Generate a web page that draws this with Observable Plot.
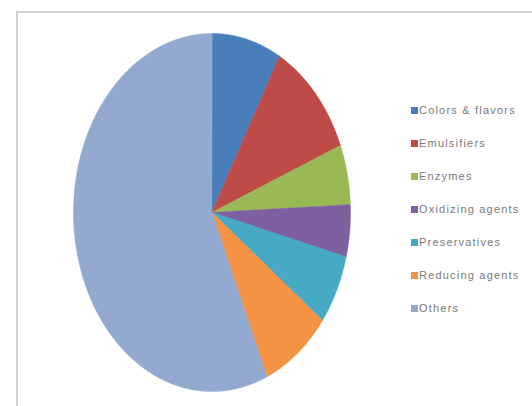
<!DOCTYPE html>
<html>
<head>
<meta charset="utf-8">
<script src="https://cdn.jsdelivr.net/npm/d3@7"></script>
<script src="https://cdn.jsdelivr.net/npm/@observablehq/plot@0.6"></script>
<style>
  html, body { margin: 0; padding: 0; background: #fff; }
  #wrap { position: relative; width: 532px; height: 406px; overflow: hidden; background: #fff; }
  #frame { position: absolute; left: 16px; top: 11px; width: 540px; height: 420px;
           border-left: 2px solid #cfcfcf; border-top: 2px solid #cfcfcf; box-sizing: border-box; }
  #chart { position: absolute; left: 0; top: 0; }
  #legend { position: absolute; left: 411px; top: 93.5px; font-family: "Liberation Sans", Arial, sans-serif;
            font-size: 11px; color: #7a7a7a; letter-spacing: 1.2px; }
  #legend .item { display: flex; align-items: center; height: 33px; white-space: nowrap; }
  #legend .sw { width: 7px; height: 7px; margin-right: 1px; flex: none; }
</style>
</head>
<body>
<div id="wrap"><div id="frame"></div><div id="chart"></div><div id="legend"></div></div>
<script>
const categories = ["Colors & flavors", "Emulsifiers", "Enzymes", "Oxidizing agents", "Preservatives", "Reducing agents", "Others"];
const shares = [8.1, 10.8, 5.4, 4.7, 6.3, 8.2, 56.5];
const colors = ["#4a7ebb", "#be4b48", "#98b954", "#7d60a0", "#46aac5", "#f59345", "#93a9cf"];

const pie = d3.pie().sort(null).value(d => d.value)(categories.map((c, i) => ({category: c, value: shares[i]})));

// Polygon outline of each slice in unit coordinates (angle 0 = top, clockwise)
const pts = [];
for (const a of pie) {
  const cat = a.data.category;
  pts.push({category: cat, x: 0, y: 0});
  const n = Math.max(4, Math.ceil((a.endAngle - a.startAngle) / 0.01));
  for (let k = 0; k <= n; k++) {
    const t = a.startAngle + (a.endAngle - a.startAngle) * k / n;
    pts.push({category: cat, x: Math.sin(t), y: Math.cos(t)});
  }
}

const chart = Plot.plot({
  width: 532,
  height: 406,
  marginLeft: 73,
  marginRight: 182,
  marginTop: 33,
  marginBottom: 15,
  x: {domain: [-1, 1], axis: null},
  y: {domain: [-1, 1], axis: null},
  color: {domain: categories, range: colors},
  style: {background: "transparent"},
  marks: [
    Plot.line(pts, {x: "x", y: "y", z: "category", fill: "category", stroke: "category", strokeWidth: 0.5, curve: "linear-closed"})
  ]
});
document.getElementById("chart").appendChild(chart);

const color = chart.scale("color");
const legend = d3.select("#legend");
categories.forEach((c, i) => {
  const item = legend.append("div").attr("class", "item");
  item.append("div").attr("class", "sw").style("background", color.range[i]);
  item.append("span").text(c);
});
</script>
</body>
</html>
